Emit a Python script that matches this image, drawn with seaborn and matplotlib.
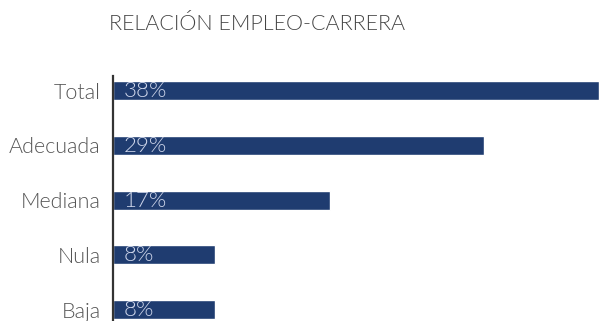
import matplotlib
matplotlib.use("Agg")
import matplotlib.pyplot as plt
import seaborn as sns
import pandas as pd
from matplotlib import font_manager as fm

categories = ["Total", "Adecuada", "Mediana", "Nula", "Baja"]
values = [38, 29, 17, 8, 8]
value_labels = ["38%", "29%", "17%", "8%", "8%"]

bar_color = "#1f3c70"

sns.set_theme(style="white")
plt.rcParams["font.family"] = ["Lato", "DejaVu Sans"]

light_path = next((f.fname for f in fm.fontManager.ttflist
                   if f.fname.endswith("Lato-Light.ttf")), None)


def light_font(size):
    if light_path:
        return fm.FontProperties(fname=light_path, size=size)
    return fm.FontProperties(family="Lato", weight="light", size=size)


df = pd.DataFrame({"categoria": categories, "valor": values})

fig = plt.figure(figsize=(5.99, 3.21), dpi=100)
ax = fig.add_axes([113 / 599, 0.0, 486 / 599, 1 - 76 / 321])

sns.barplot(data=df, y="categoria", x="valor", orient="h", color=bar_color,
            saturation=1, width=0.347, ax=ax)

ax.set_xlim(0, 38)
ax.set_ylim(4.21, -0.265)

for i, lab in enumerate(value_labels):
    ax.text(0.85, i + 0.01, lab, va="center", ha="left", color="#cdd5ea",
            fontproperties=light_font(16))

ax.set_xlabel("")
ax.set_ylabel("")
ax.set_xticks([])
ax.tick_params(axis="y", length=0, pad=9, labelcolor="#555555")
for t in ax.get_yticklabels():
    t.set_fontproperties(light_font(15.5))

for side in ["top", "right", "bottom"]:
    ax.spines[side].set_visible(False)
ax.spines["left"].set_color("#333333")
ax.spines["left"].set_linewidth(1.6)

fig.text(257 / 599, 1 - 24 / 321, "RELACIÓN EMPLEO-CARRERA", ha="center", va="center",
         color="#444444", fontproperties=light_font(15.5))

fig.savefig("out.png", dpi=100)
